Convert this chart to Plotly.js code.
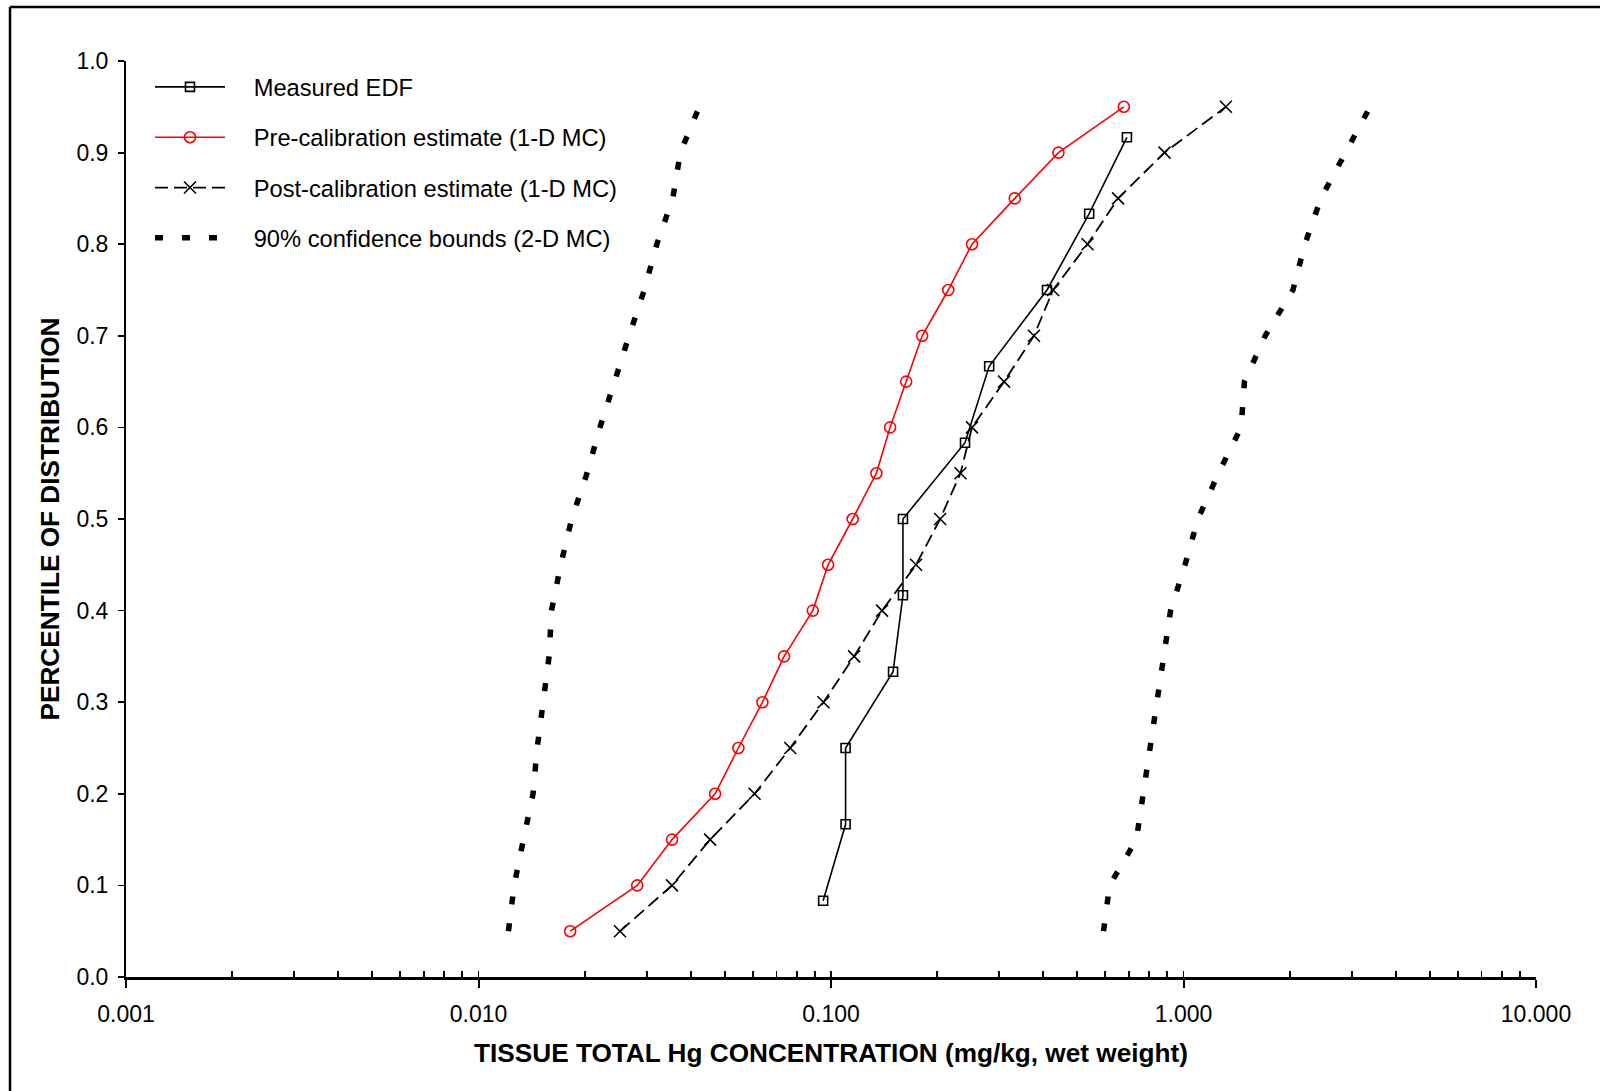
<!DOCTYPE html>
<html>
<head>
<meta charset="utf-8">
<script src="https://cdn.plot.ly/plotly-3.0.1.min.js"></script>
<style>
  html, body { margin: 0; padding: 0; background: #fff; }
  #chart { width: 1600px; height: 1091px; }
</style>
</head>
<body>
<div id="chart"></div>
<script>
// ---------------- data ----------------
const measuredPct = [0.0833, 0.1667, 0.25, 0.3333, 0.4167, 0.5, 0.5833, 0.6667, 0.75, 0.8333, 0.9167];
const measuredConc = [0.095, 0.110, 0.110, 0.150, 0.160, 0.160, 0.240, 0.281, 0.410, 0.540, 0.691];

const modelPct = [0.05, 0.10, 0.15, 0.20, 0.25, 0.30, 0.35, 0.40, 0.45, 0.50,
                  0.55, 0.60, 0.65, 0.70, 0.75, 0.80, 0.85, 0.90, 0.95];
const preCalConc = [0.0182, 0.0282, 0.0354, 0.0469, 0.0546, 0.0639, 0.0736, 0.0888, 0.0981, 0.1152,
                    0.1345, 0.1471, 0.1634, 0.1814, 0.2151, 0.2512, 0.3321, 0.4418, 0.6772];
const postCalConc = [0.0252, 0.0354, 0.0454, 0.0607, 0.0766, 0.0952, 0.1163, 0.1396, 0.1743, 0.2040,
                     0.2330, 0.2512, 0.3097, 0.3765, 0.4266, 0.5342, 0.6524, 0.8834, 1.319];
const lowerBound = [0.01216, 0.01262, 0.01341, 0.01428, 0.01467, 0.01521, 0.01586, 0.01611, 0.01711, 0.01838,
                    0.02032, 0.02211, 0.02443, 0.02674, 0.02953, 0.03206, 0.03558, 0.03737, 0.04230];
const upperBound = [0.593, 0.617, 0.735, 0.769, 0.804, 0.847, 0.881, 0.919, 1.010, 1.099,
                    1.257, 1.457, 1.489, 1.705, 2.044, 2.210, 2.454, 2.875, 3.384];

const seriesNames = ["Measured EDF", "Pre-calibration estimate (1-D MC)",
                     "Post-calibration estimate (1-D MC)", "90% confidence bounds (2-D MC)"];

const xMajorVals = [0.001, 0.01, 0.1, 1, 10];
const xMajorText = ["0.001", "0.010", "0.100", "1.000", "10.000"];
const xMinorVals = [0.001, 0.002, 0.003, 0.004, 0.005, 0.006, 0.007, 0.008, 0.009,
                    0.01, 0.02, 0.03, 0.04, 0.05, 0.06, 0.07, 0.08, 0.09,
                    0.1, 0.2, 0.3, 0.4, 0.5, 0.6, 0.7, 0.8, 0.9,
                    1, 2, 3, 4, 5, 6, 7, 8, 9, 10];
const yTickVals = [0.0, 0.1, 0.2, 0.3, 0.4, 0.5, 0.6, 0.7, 0.8, 0.9, 1.0];

const xTitle = "TISSUE TOTAL Hg CONCENTRATION (mg/kg, wet weight)";
const yTitle = "PERCENTILE OF DISTRIBUTION";

// ---------------- layout constants ----------------
const W = 1600, H = 1091;
const M = { l: 126, r: 64, t: 61, b: 114 };
const PW = W - M.l - M.r, PH = H - M.t - M.b;
const FONT = "Arial, 'Liberation Sans', sans-serif";
const GAP = "\u2002\u2002"; // visual gap between legend symbol and label

const traces = [
  {
    x: measuredConc, y: measuredPct, name: GAP + seriesNames[0], type: "scatter", mode: "lines+markers",
    line: { color: "#000", width: 1.6 },
    marker: { symbol: "square-open", size: 9, color: "#000", line: { width: 1.6, color: "#000" } },
    legendgroup: "g1"
  },
  {
    x: preCalConc, y: modelPct, name: GAP + seriesNames[1], type: "scatter", mode: "lines+markers",
    line: { color: "#ff0000", width: 1.6 },
    marker: { symbol: "circle-open", size: 11, color: "#ff0000", line: { width: 1.6, color: "#ff0000" } },
    legendgroup: "g2"
  },
  {
    x: postCalConc, y: modelPct, name: GAP + seriesNames[2], type: "scatter", mode: "lines+markers",
    line: { color: "#000", width: 1.8, dash: "13px,6px" },
    marker: { symbol: "x-thin-open", size: 12, color: "#000", line: { width: 1.6, color: "#000" } },
    legendgroup: "g3"
  },
  {
    x: lowerBound, y: modelPct, name: GAP + seriesNames[3], type: "scatter", mode: "lines",
    line: { color: "#000", width: 5.5, dash: "8px,19px" },
    legendgroup: "g4"
  },
  {
    x: upperBound, y: modelPct, name: GAP + seriesNames[3], type: "scatter", mode: "lines",
    line: { color: "#000", width: 5.5, dash: "8px,19px" },
    legendgroup: "g4", showlegend: false
  },
  { x: [], y: [], xaxis: "x2", yaxis: "y", showlegend: false, hoverinfo: "skip", type: "scatter", mode: "lines" }
];

const px2x = px => (px - M.l) / PW;
const py2y = py => (H - M.b - py) / PH;

const layout = {
  width: W, height: H,
  margin: M,
  paper_bgcolor: "#fff", plot_bgcolor: "rgba(0,0,0,0)",
  font: { family: FONT, color: "#000", size: 23 },
  showlegend: true,
  legend: {
    x: px2x(150), y: py2y(65), xanchor: "left", yanchor: "top",
    bgcolor: "rgba(0,0,0,0)", borderwidth: 0,
    font: { family: FONT, size: 23.7, color: "#000" },
    itemwidth: 70, tracegroupgap: 16.5, traceorder: "grouped",
    itemclick: false, itemdoubleclick: false
  },
  xaxis: {
    type: "log", range: [-3, 1], autorange: false,
    showgrid: false, zeroline: false,
    showline: true, linecolor: "#000", linewidth: 2.5,
    ticks: "outside", ticklen: 8, tickwidth: 2, tickcolor: "#000",
    tickmode: "array", tickvals: xMajorVals, ticktext: xMajorText,
    tickfont: { family: FONT, size: 23, color: "#000" },
    ticklabelstandoff: 7,
    title: { text: xTitle, font: { family: FONT, size: 26.2, color: "#000", weight: "bold" }, standoff: 18 },
    automargin: false
  },
  xaxis2: {
    type: "log", range: [-3, 1], autorange: false, overlaying: "x", anchor: "y", side: "bottom",
    showgrid: false, zeroline: false, showline: false,
    ticks: "inside", ticklen: 6, tickwidth: 1.8, tickcolor: "#000",
    tickmode: "array", tickvals: xMinorVals, showticklabels: false, automargin: false
  },
  yaxis: {
    range: [0, 1], autorange: false,
    showgrid: false, zeroline: false,
    showline: true, linecolor: "#000", linewidth: 2,
    ticks: "outside", ticklen: 6, tickwidth: 1.8, tickcolor: "#000",
    tickmode: "array", tickvals: yTickVals, tickformat: ".1f",
    tickfont: { family: FONT, size: 23, color: "#000" },
    ticklabelstandoff: 5,
    title: { text: yTitle, font: { family: FONT, size: 26.2, color: "#000", weight: "bold" }, standoff: 9 },
    automargin: false
  },
  shapes: [
    { type: "line", xref: "paper", yref: "paper", x0: px2x(10), x1: px2x(10), y0: py2y(7), y1: py2y(H + 20),
      line: { color: "#000", width: 2.5 }, layer: "above" },
    { type: "line", xref: "paper", yref: "paper", x0: px2x(10), x1: px2x(W + 20), y0: py2y(7), y1: py2y(7),
      line: { color: "#000", width: 2.5 }, layer: "above" }
  ]
};

Plotly.newPlot("chart", traces, layout, { displayModeBar: false, staticPlot: true });
</script>
</body>
</html>
